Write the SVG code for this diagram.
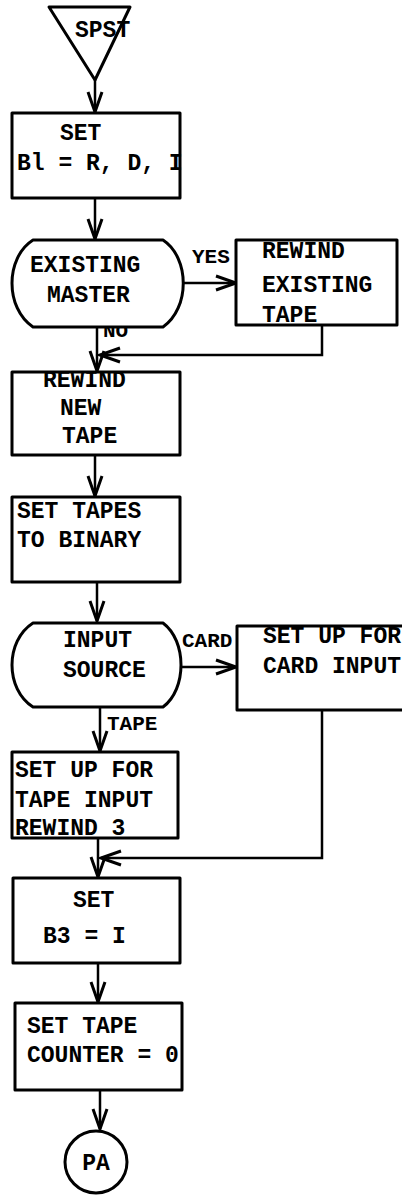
<svg xmlns="http://www.w3.org/2000/svg" width="402" height="1195" viewBox="0 0 402 1195">
<style>
.s{fill:#fff;stroke:#000;stroke-width:3;stroke-linejoin:round}
.t{font-family:"Liberation Mono","DejaVu Sans Mono",monospace;font-weight:bold;font-size:23px;fill:#000}
.l{font-family:"Liberation Mono","DejaVu Sans Mono",monospace;font-weight:bold;font-size:21px;fill:#000}
.c{fill:none;stroke:#000;stroke-width:2.5}
.m{text-anchor:middle}
</style>
<defs>
<marker id="a" markerUnits="userSpaceOnUse" markerWidth="30" markerHeight="20" viewBox="-22 -10 24 20" refX="0" refY="0" orient="auto" overflow="visible">
<path d="M-20,-7 L0,0 L-20,7" fill="none" stroke="#000" stroke-width="3"/>
</marker>
</defs>
<rect width="402" height="1195" fill="#fff"/>
<g id="connectors">
<path class="c" d="M95,80 V112" marker-end="url(#a)"/>
<path class="c" d="M95,198 V239" marker-end="url(#a)"/>
<path class="c" d="M182,283 H236" marker-end="url(#a)"/>
<path class="c" d="M97,327 V371" marker-end="url(#a)"/>
<path class="c" d="M322,325 V355 H100" marker-end="url(#a)"/>
<path class="c" d="M95,455 V496" marker-end="url(#a)"/>
<path class="c" d="M97,582 V621" marker-end="url(#a)"/>
<path class="c" d="M178,667 H236" marker-end="url(#a)"/>
<path class="c" d="M100,707 V751" marker-end="url(#a)"/>
<path class="c" d="M322,710 V858 H101" marker-end="url(#a)"/>
<path class="c" d="M98,838 V877" marker-end="url(#a)"/>
<path class="c" d="M98,963 V1002" marker-end="url(#a)"/>
<path class="c" d="M100,1090 V1129" marker-end="url(#a)"/>
<text class="l" x="192" y="263">YES</text>
<text class="l" x="103" y="337">NO</text>
<text class="l" x="182" y="647">CARD</text>
<text class="l" x="107" y="730">TAPE</text>
</g>
<g id="spst">
<path class="s" d="M49,7 H130 L95,80 Z"/>
<text class="t" x="75" y="37">SPST</text>
</g>
<g id="set-b1">
<rect class="s" x="12" y="113" width="168" height="85"/>
<text class="t" x="60" y="140">SET</text>
<text class="t" x="17" y="170">Bl = R, D, I</text>
</g>
<g id="existing-master">
<path class="s" d="M33,240 H163 C190,258 190,308 163,327 H33 C5,308 5,258 33,240 Z"/>
<text class="t" x="30" y="272">EXISTING</text>
<text class="t" x="47" y="302">MASTER</text>
</g>
<g id="rewind-existing">
<rect class="s" x="236" y="240" width="161" height="85"/>
<text class="t" x="262" y="258">REWIND</text>
<text class="t" x="262" y="292">EXISTING</text>
<text class="t" x="262" y="322">TAPE</text>
</g>
<g id="rewind-new">
<rect class="s" x="12" y="372" width="168" height="83"/>
<text class="t" x="43" y="387">REWIND</text>
<text class="t" x="60" y="415">NEW</text>
<text class="t" x="62" y="443">TAPE</text>
</g>
<g id="set-binary">
<rect class="s" x="12" y="497" width="168" height="85"/>
<text class="t" x="17" y="518">SET TAPES</text>
<text class="t" x="17" y="547">TO BINARY</text>
</g>
<g id="input-source">
<path class="s" d="M33,623 H163 C187,641 187,689 163,707 H33 C5,689 5,641 33,623 Z"/>
<text class="t" x="63" y="647">INPUT</text>
<text class="t" x="63" y="677">SOURCE</text>
</g>
<g id="card-input">
<rect class="s" x="237" y="626" width="175" height="84"/>
<text class="t" x="263" y="643">SET UP FOR</text>
<text class="t" x="263" y="673">CARD INPUT</text>
</g>
<g id="tape-input">
<rect class="s" x="12" y="752" width="166" height="86"/>
<text class="t" x="15" y="777">SET UP FOR</text>
<text class="t" x="15" y="807">TAPE INPUT</text>
<text class="t" x="15" y="835">REWIND 3</text>
</g>
<g id="set-b3">
<rect class="s" x="13" y="878" width="167" height="85"/>
<text class="t" x="73" y="907">SET</text>
<text class="t" x="43" y="943">B3 = I</text>
</g>
<g id="tape-counter">
<rect class="s" x="15" y="1003" width="167" height="87"/>
<text class="t" x="27" y="1033">SET TAPE</text>
<text class="t" x="27" y="1062">COUNTER = 0</text>
</g>
<g id="pa">
<circle class="s" cx="96" cy="1162" r="31"/>
<text class="t m" x="96" y="1170">PA</text>
</g>
</svg>
